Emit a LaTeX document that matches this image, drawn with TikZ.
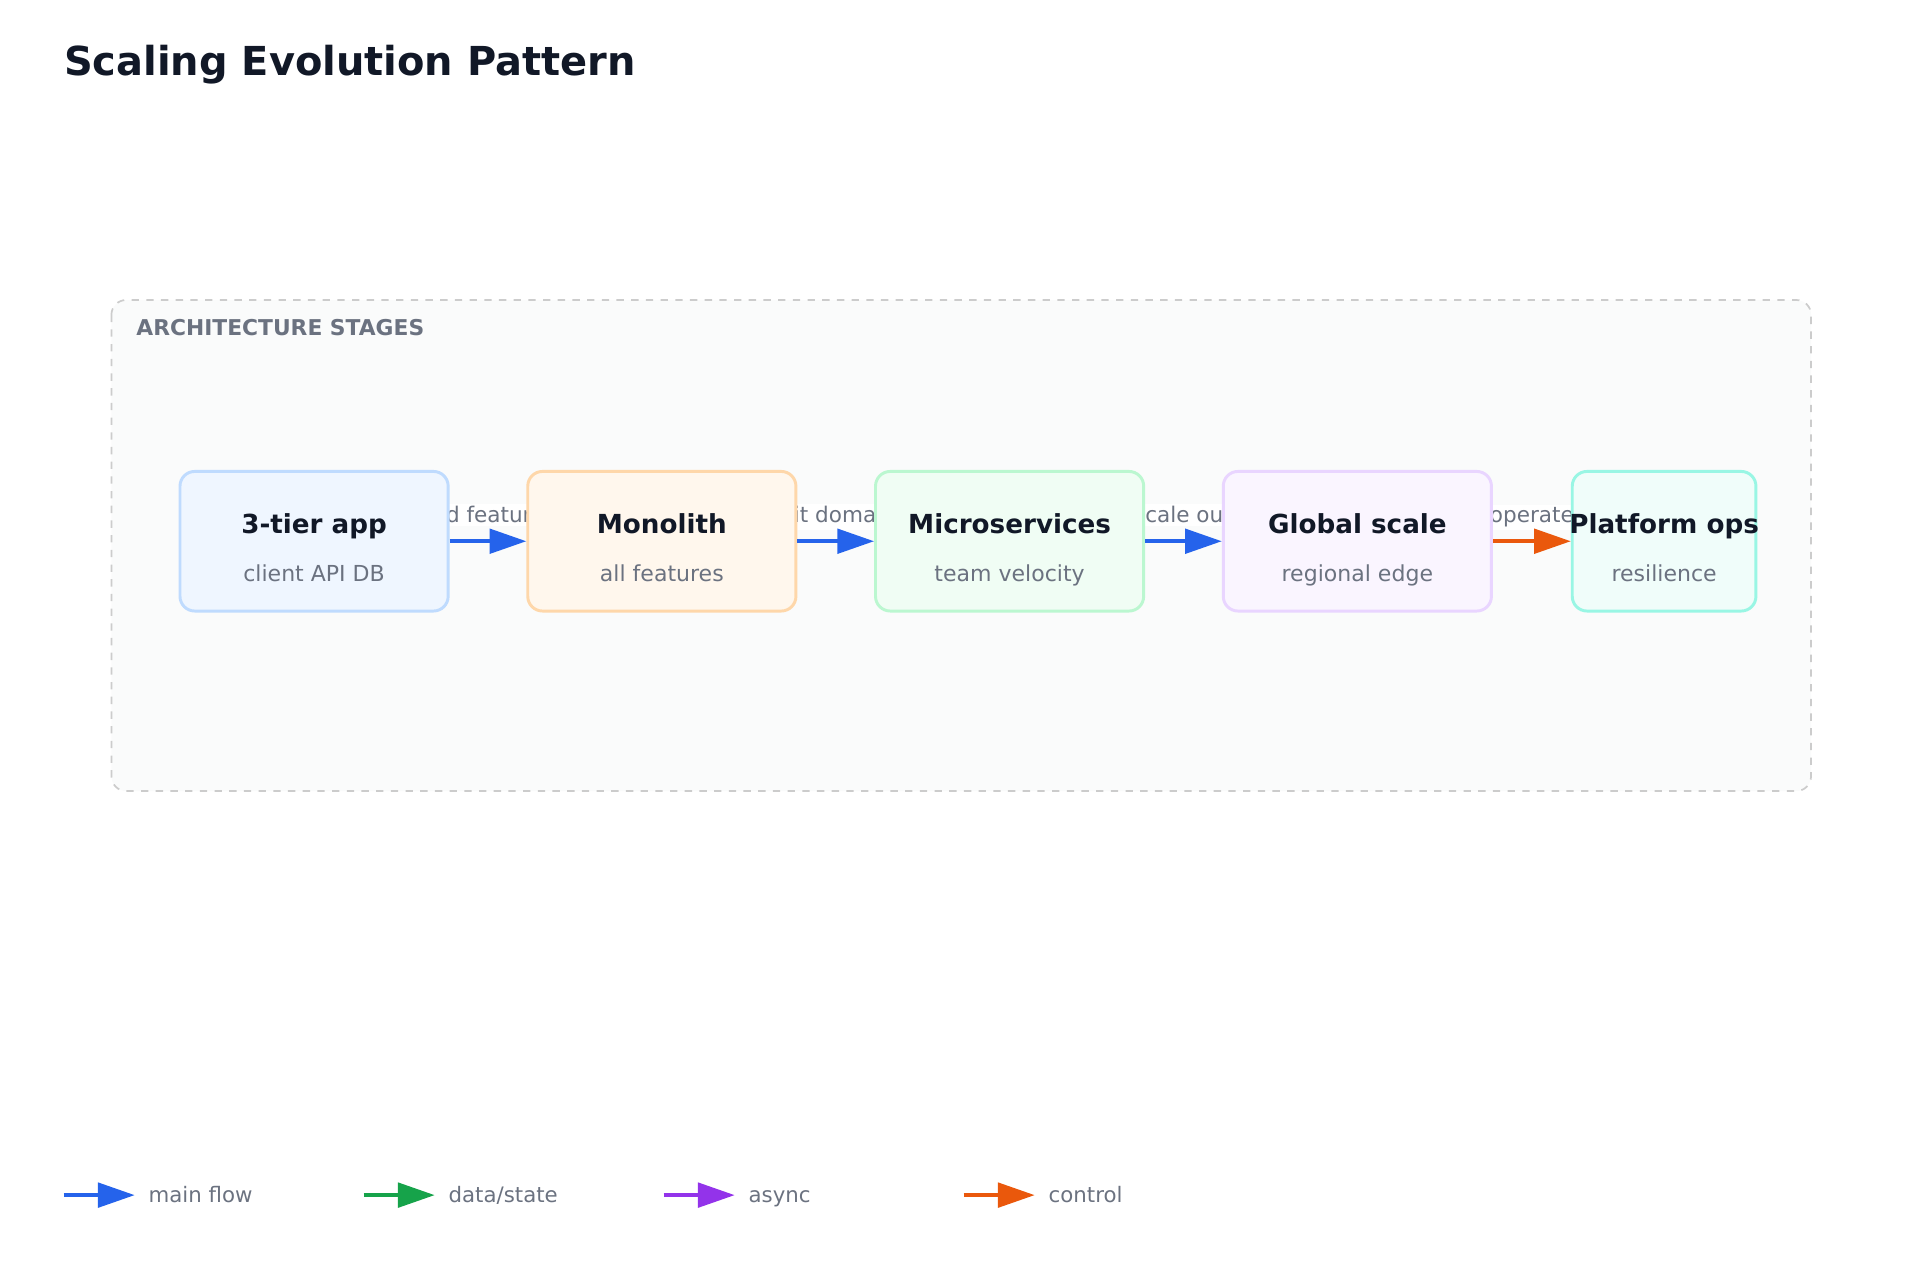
\documentclass[tikz,border=0pt]{standalone}
\usepackage{fontspec}
\setmainfont{DejaVu Sans}
\usetikzlibrary{arrows.meta}
\definecolor{ink}{HTML}{111827}
\definecolor{muted}{HTML}{6B7280}
\definecolor{cblue}{HTML}{2563EB}
\definecolor{cgreen}{HTML}{16A34A}
\definecolor{cpurple}{HTML}{9333EA}
\definecolor{corange}{HTML}{EA580C}
\definecolor{sa}{HTML}{BFDBFE}\definecolor{fa}{HTML}{EFF6FF}
\definecolor{sb}{HTML}{FED7AA}\definecolor{fb}{HTML}{FFF7ED}
\definecolor{sc}{HTML}{BBF7D0}\definecolor{fc}{HTML}{F0FDF4}
\definecolor{sd}{HTML}{E9D5FF}\definecolor{fd}{HTML}{FAF5FF}
\definecolor{se}{HTML}{99F6E4}\definecolor{fe}{HTML}{F0FDFA}
\definecolor{panel}{HTML}{FAFBFB}
\tikzset{
  stage/.style={draw=#1, line width=1.2pt, rounded corners=6pt, minimum height=57pt, inner sep=0pt},
  flow/.style={line width=1.5pt, -{Triangle[length=15pt,width=10pt]}},
  elabel/.style={font=\fontsize{8.8}{10}\selectfont, text=muted, fill=white, inner sep=1pt, anchor=base},
  ttl/.style={font=\fontsize{10.7}{13}\selectfont\bfseries, text=ink, anchor=base, inner sep=0pt},
  sub/.style={font=\fontsize{9}{10}\selectfont, text=muted, anchor=base, inner sep=0pt},
  legtext/.style={font=\fontsize{8.7}{10}\selectfont, text=muted, anchor=base west, inner sep=0pt}
}
\begin{document}
\begin{tikzpicture}[x=0.5pt,y=-0.5pt]
\useasboundingbox (0,0) rectangle (1568,1045);
\node[anchor=base west, inner sep=0pt, font=\fontsize{16.3}{19}\selectfont\bfseries, text=ink] (title) at (52,62) {Scaling Evolution Pattern};
\draw[dashed, draw=gray!40, fill=panel, rounded corners=6pt, line width=0.7pt] (91,245) rectangle (1479,646);
\node[anchor=base west, inner sep=0pt, font=\fontsize{8.9}{10}\selectfont\bfseries, text=muted] (cap) at (111,274) {ARCHITECTURE STAGES};
% edge labels (behind boxes)
\node[elabel] (l1) at (398,427) {add features};
\node[elabel] (l2) at (682,427) {split domains};
\node[elabel] (l3) at (966,427) {scale out};
\node[elabel] (l4) at (1251,427) {operate};
% boxes
\node[stage=sa, fill=fa, minimum width=109.5pt] (a) at (256.5,442) {};
\node[stage=sb, fill=fb, minimum width=109.5pt] (b) at (540.5,442) {};
\node[stage=sc, fill=fc, minimum width=109.5pt] (c) at (824.5,442) {};
\node[stage=sd, fill=fd, minimum width=109.5pt] (d) at (1108.5,442) {};
\node[stage=se, fill=fe, minimum width=75pt] (e) at (1359,442) {};
\foreach \n/\t/\s in {a/3-tier app/client API DB, b/Monolith/all features, c/Microservices/team velocity, d/Global scale/regional edge, e/Platform ops/resilience}{
  \node[ttl] at ([yshift=3pt]\n.center) {\t};
  \node[sub] at ([yshift=-16.5pt]\n.center) {\s};
}
\draw[flow, cblue] (a.east) -- (b.west);
\draw[flow, cblue] (b.east) -- (c.west);
\draw[flow, cblue] (c.east) -- (d.west);
\draw[flow, corange] (d.east) -- (e.west);
% legend
\foreach \x/\c/\t/\k in {52/cblue/main flow/m, 297/cgreen/data\slash state/g, 542/cpurple/async/p, 787/corange/control/o}{
  \coordinate (s\k) at (\x,976);
  \coordinate (t\k) at (\x+58,976);
  \draw[flow, \c] (s\k) -- (t\k);
  \node[legtext] at (\x+69,982) {\t};
}
\end{tikzpicture}
\end{document}
